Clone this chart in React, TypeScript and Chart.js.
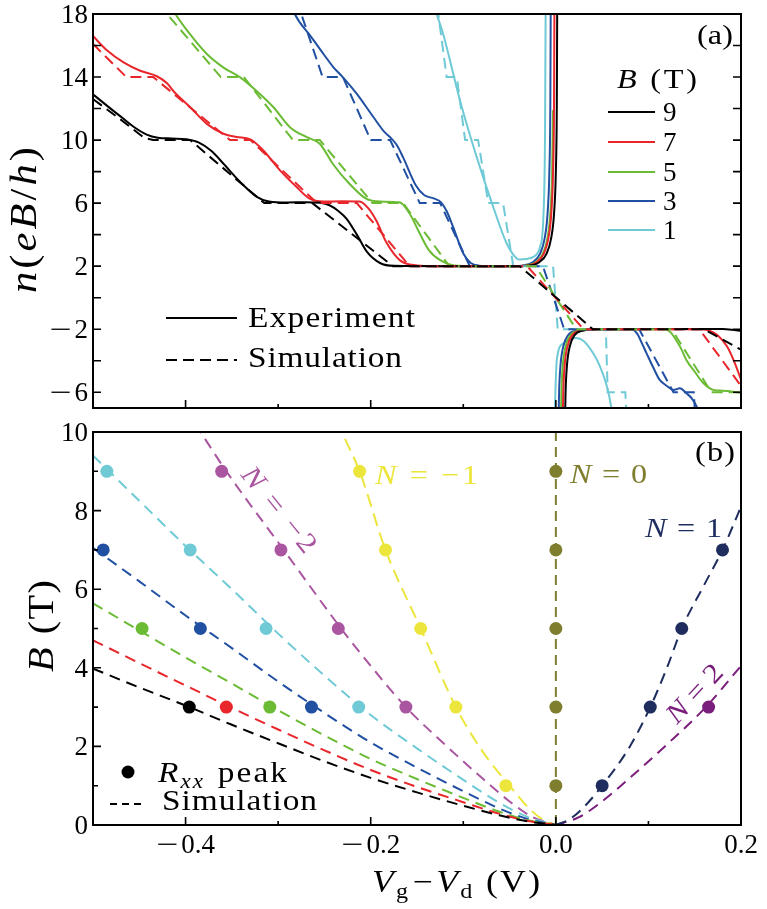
import React, { useEffect, useRef } from "react";
import { Chart, registerables } from "chart.js";

Chart.register(...registerables);

// ---------------- Panel (a): n(eB/h) vs Vg-Vd, [V, n] ----------------
const expB9: (number | null)[][] = [
  [-0.5, 12.9], [-0.48, 11.95], [-0.467, 11.35], [-0.455, 10.8], [-0.442, 10.35], [-0.43, 10.15],
  [-0.415, 10.1], [-0.399, 10.05], [-0.386, 9.85], [-0.372, 9.3], [-0.359, 8.5], [-0.341, 7.34],
  [-0.323, 6.4], [-0.31, 6.1], [-0.29, 6.04], [-0.27, 6.06], [-0.255, 6.02], [-0.244, 5.85],
  [-0.235, 5.5], [-0.226, 5.0], [-0.215, 4.0], [-0.204, 2.9], [-0.19, 2.2], [-0.175, 2.02],
  [-0.12, 2.0], [-0.05, 2.0], [-0.03, 2.03], [-0.018, 2.25], [-0.01, 2.8], [-0.005, 3.8],
  [-0.002, 5.3], [0.0, 8], [0.001, 12], [0.0015, 19], [0.004, null],
  [0.0095, -9], [0.0105, -6], [0.012, -4.3], [0.015, -3.1], [0.02, -2.4], [0.03, -2.08],
  [0.045, -2.0], [0.1, -1.98], [0.15, -1.98], [0.18, -1.99], [0.19, -2.03], [0.2, -2.1],
];
const simB9: number[][] = [
  [-0.5, 12.6], [-0.47, 11.3], [-0.445, 10.15], [-0.435, 10.0], [-0.395, 10.0], [-0.315, 6.0],
  [-0.263, 6.0], [-0.176, 2.0], [-0.039, 2.0], [0.04, -2.0], [0.16, -2.0], [0.2, -3.3],
];
const expB7: (number | null)[][] = [
  [-0.5, 16.6], [-0.485, 15.7], [-0.467, 14.93], [-0.449, 14.4], [-0.431, 14.05], [-0.42, 13.6],
  [-0.413, 13.1], [-0.395, 12.08], [-0.377, 11.03], [-0.359, 10.4], [-0.345, 10.2], [-0.33, 10.05],
  [-0.316, 9.34], [-0.298, 8.08], [-0.28, 7.02], [-0.266, 6.28], [-0.251, 6.1], [-0.23, 6.12],
  [-0.212, 6.1], [-0.203, 5.7], [-0.194, 4.9], [-0.183, 3.5], [-0.168, 2.35], [-0.15, 2.05],
  [-0.13, 2.0], [-0.06, 2.0], [-0.033, 2.03], [-0.021, 2.25], [-0.013, 2.8], [-0.008, 3.8],
  [-0.005, 5.3], [-0.003, 8], [-0.002, 12], [-0.0015, 19], [0.002, null],
  [0.007, -9], [0.008, -6], [0.0095, -4.3], [0.0125, -3.1], [0.0175, -2.4], [0.0275, -2.08],
  [0.045, -2.0], [0.15, -2.0], [0.16, -2.02], [0.166, -2.1], [0.175, -2.4], [0.185, -3.1],
  [0.193, -4.1], [0.2, -5.2],
];
const simB7: number[][] = [
  [-0.5, 16.1], [-0.464, 14.0], [-0.435, 14.0], [-0.352, 10.0], [-0.33, 10.0], [-0.258, 6.0],
  [-0.215, 6.0], [-0.158, 2.0], [-0.031, 2.0], [0.03, -2.0], [0.155, -2.0], [0.205, -6.0],
];
const expB5: (number | null)[][] = [
  [-0.425, 19.5], [-0.411, 18], [-0.395, 16.7], [-0.377, 15.46], [-0.359, 14.6], [-0.341, 13.98],
  [-0.323, 13.1], [-0.305, 12.08], [-0.287, 10.8], [-0.269, 10.18], [-0.255, 9.77], [-0.241, 8.5],
  [-0.223, 7.23], [-0.205, 6.28], [-0.19, 6.1], [-0.169, 6.05], [-0.158, 5.34], [-0.147, 4.07],
  [-0.137, 3.0], [-0.125, 2.38], [-0.11, 2.05], [-0.09, 2.0], [-0.05, 2.0], [-0.034, 2.03],
  [-0.022, 2.25], [-0.014, 2.8], [-0.009, 3.8], [-0.006, 5.3], [-0.004, 8], [-0.003, 11.9],
  [0.0, null],
  [0.005, -9], [0.006, -6], [0.0075, -4.3], [0.0105, -3.1], [0.0155, -2.4], [0.0255, -2.08],
  [0.045, -2.0], [0.118, -2.0], [0.124, -2.2], [0.13, -2.7], [0.135, -3.2], [0.141, -3.95],
  [0.15, -4.7], [0.159, -5.4], [0.17, -5.85], [0.18, -5.9], [0.19, -5.95], [0.2, -6.05],
];
const simB5: number[][] = [
  [-0.46, 19.5], [-0.435, 18.0], [-0.42, 18.0], [-0.362, 14.0], [-0.337, 14.0], [-0.284, 10.0],
  [-0.255, 10.0], [-0.198, 6.0], [-0.165, 6.0], [-0.115, 2.0], [-0.022, 2.0], [0.022, -2.0],
  [0.125, -2.0], [0.168, -6.0], [0.2, -6.0],
];
const expB3: (number | null)[][] = [
  [-0.29, 19.3], [-0.282, 18], [-0.265, 16.6], [-0.251, 15.46], [-0.24, 14.6], [-0.23, 13.98],
  [-0.215, 12.93], [-0.197, 11.45], [-0.185, 10.5], [-0.179, 10.18], [-0.172, 9.7], [-0.165, 8.9],
  [-0.151, 7.1], [-0.142, 6.5], [-0.132, 6.3], [-0.124, 6.05], [-0.118, 5.5], [-0.111, 4.49],
  [-0.1, 2.8], [-0.092, 2.2], [-0.083, 2.03], [-0.07, 2.0], [-0.045, 2.0], [-0.037, 2.03],
  [-0.025, 2.25], [-0.017, 2.8], [-0.012, 3.8], [-0.009, 5.3], [-0.007, 8], [-0.006, 12],
  [-0.0055, 19], [-0.002, null],
  [0.0025, -9], [0.0035, -6], [0.005, -4.3], [0.008, -3.1], [0.013, -2.4], [0.023, -2.08],
  [0.04, -2.0], [0.082, -2.0], [0.088, -2.3], [0.093, -2.9], [0.098, -3.53], [0.105, -4.4],
  [0.112, -5.2], [0.12, -5.6], [0.127, -5.85], [0.134, -5.75], [0.141, -6.06], [0.147, -6.4],
  [0.152, -6.9], [0.156, -7.6],
];
const simB3: number[][] = [
  [-0.29, 19.5], [-0.282, 18.0], [-0.275, 18.0], [-0.252, 14.0], [-0.23, 14.0], [-0.2, 10.0],
  [-0.179, 10.0], [-0.147, 6.0], [-0.125, 6.0], [-0.093, 2.0], [-0.014, 2.0], [0.009, -2.0],
  [0.09, -2.0], [0.127, -6.0], [0.149, -6.0], [0.151, -8.0],
];
const expB1: (number | null)[][] = [
  [-0.135, 19.3], [-0.1287, 18], [-0.1216, 16.7], [-0.1035, 12.5], [-0.0855, 8.92], [-0.0676, 5.75],
  [-0.0531, 3.44], [-0.0423, 2.49], [-0.039, 2.42], [-0.032, 2.45], [-0.0244, 2.59], [-0.0171, 3.22],
  [-0.0135, 5.12], [-0.0117, 10.4], [-0.011, 18.5], [-0.0105, 20], [-0.006, null],
  [-0.002, -9], [-0.0005, -6], [0.001, -3.95], [0.008, -2.9], [0.016, -2.62], [0.022, -2.56],
  [0.03, -2.75], [0.04, -3.5], [0.048, -4.4], [0.055, -5.6], [0.06, -7], [0.063, -8.5],
];
const simB1: number[][] = [
  [-0.13, 19.5], [-0.127, 18.0], [-0.118, 14.0], [-0.107, 14.0], [-0.098, 10.0], [-0.084, 10.0],
  [-0.073, 6.0], [-0.057, 6.0], [-0.046, 2.0], [-0.003, 2.0], [0.002, -2.0], [0.054, -2.0],
  [0.056, -6.0], [0.075, -6.0], [0.077, -8.0],
];
const fieldLabels = ["9", "7", "5", "3", "1"];

// ---------------- Panel (b): B vs Vg-Vd, [V, B] ----------------
const peakBlack = [[-0.396, 3]];
const peakRed = [[-0.356, 3]];
const peakGreen = [[-0.447, 5], [-0.309, 3]];
const peakBlue = [[-0.489, 7], [-0.384, 5], [-0.264, 3]];
const peakCyan = [[-0.485, 9], [-0.395, 7], [-0.313, 5], [-0.213, 3]];
const peakNm2 = [[-0.361, 9], [-0.297, 7], [-0.235, 5], [-0.162, 3]];
const peakNm1 = [[-0.212, 9], [-0.184, 7], [-0.146, 5], [-0.108, 3], [-0.054, 1]];
const peakN0 = [[0, 9], [0, 7], [0, 5], [0, 3], [0, 1]];
const peakN1 = [[0.05, 1], [0.102, 3], [0.136, 5], [0.18, 7]];
const peakN2 = [[0.165, 3]];

const simBlack = [[-0.5, 3.98], [-0.45, 3.5], [-0.4, 3.04], [-0.35, 2.55], [-0.3, 2.08], [-0.25, 1.62], [-0.2, 1.2], [-0.15, 0.83], [-0.1, 0.49], [-0.06, 0.24], [-0.03, 0.09], [0, 0]];
const simRed = [[-0.5, 4.7], [-0.45, 4.12], [-0.4, 3.55], [-0.35, 2.98], [-0.3, 2.43], [-0.25, 1.9], [-0.2, 1.4], [-0.15, 0.97], [-0.1, 0.58], [-0.06, 0.28], [-0.03, 0.1], [0, 0]];
const simGreen = [[-0.5, 5.64], [-0.45, 4.95], [-0.4, 4.26], [-0.35, 3.6], [-0.3, 2.92], [-0.25, 2.28], [-0.2, 1.68], [-0.15, 1.17], [-0.1, 0.69], [-0.06, 0.33], [-0.03, 0.12], [0, 0]];
const simBlue = [[-0.5, 7.05], [-0.45, 6.2], [-0.4, 5.33], [-0.35, 4.5], [-0.3, 3.65], [-0.25, 2.85], [-0.2, 2.1], [-0.15, 1.46], [-0.1, 0.86], [-0.06, 0.41], [-0.03, 0.15], [0, 0]];
const simCyan = [[-0.5, 9.4], [-0.45, 8.25], [-0.4, 7.1], [-0.35, 6.0], [-0.3, 4.87], [-0.25, 3.8], [-0.2, 2.8], [-0.15, 1.95], [-0.1, 1.15], [-0.06, 0.55], [-0.03, 0.2], [0, 0]];
const simNm2 = [[-0.39, 10.2], [-0.384, 10], [-0.356, 9], [-0.294, 7], [-0.232, 5], [-0.2, 4.05], [-0.162, 3.0], [-0.12, 2.05], [-0.08, 1.2], [-0.05, 0.6], [-0.025, 0.2], [0, 0]];
const simNm1 = [[-0.236, 10.3], [-0.231, 10], [-0.212, 9], [-0.184, 7], [-0.146, 5], [-0.108, 3], [-0.08, 1.9], [-0.05, 1.0], [-0.03, 0.45], [-0.015, 0.15], [0, 0]];
const simN0 = [[0, 0], [0, 10]];
const simN1 = [[0, 0], [0.015, 0.15], [0.03, 0.45], [0.05, 1.0], [0.08, 2.0], [0.102, 3], [0.12, 4.0], [0.136, 5], [0.16, 6.1], [0.18, 7], [0.2, 8.1]];
const simN2 = [[0, 0], [0.025, 0.2], [0.05, 0.6], [0.08, 1.2], [0.12, 2.05], [0.162, 3.0], [0.2, 4.05]];

// ---------------- ticks ----------------
const nTicksAll = [-6, -4, -2, 0, 2, 4, 6, 8, 10, 12, 14, 16];
const nTicksLabeled = [-6, -2, 2, 6, 10, 14, 18];
const vTicksMajor = [-0.4, -0.2, 0.0, 0.2];
const vTickLabels = ["−0.4", "−0.2", "0.0", "0.2"];
const vTicksMinor = [-0.3, -0.1, 0.1];
const bTicksMajor = [0, 2, 4, 6, 8, 10];
const bTicksMinor = [1, 3, 5, 7, 9];

// ---------------- styles ----------------
const BLACK = "#000000";
const RED = "#e8262b";
const GREEN = "#6bbb34";
const BLUE = "#2150a2";
const CYAN = "#6fcad6";
const PURPLE = "#a9559f";
const YELLOW = "#ece63c";
const OLIVE = "#7e7e2e";
const NAVY = "#1e2d5e";
const DPURPLE = "#7a1e7c";
const SERIF = '"Liberation Serif", "Times New Roman", Times, serif';

type Seg = { t: string; px: number; it?: boolean; dy?: number; gap?: number; sx?: number };
const fnt = (px: number, it?: boolean) => `${it ? "italic " : "normal "}${px}px ${SERIF}`;

function charW(ctx: CanvasRenderingContext2D, s: Seg, ch: string) {
  ctx.font = fnt(s.px, s.it);
  return ctx.measureText(ch).width * (s.sx ?? 1);
}

// Draws a run of text segments; when a target width is given the extra room is
// shared between a modest horizontal stretch and letter spacing.
function drawSegs(
  ctx: CanvasRenderingContext2D,
  segs: Seg[],
  x: number,
  y: number,
  o: { align?: "left" | "center" | "right"; rot?: number; color?: string; width?: number } = {}
) {
  ctx.save();
  ctx.fillStyle = o.color ?? "#000";
  ctx.textAlign = "left";
  ctx.textBaseline = "alphabetic";
  let natural = 0;
  let nChars = 0;
  for (const s of segs) {
    for (const ch of Array.from(s.t)) {
      natural += charW(ctx, s, ch);
      nChars++;
    }
    natural += s.gap ?? 0;
  }
  let k = 1;
  let ls = 0;
  if (o.width) {
    k = Math.max(0.85, Math.min(1.15, o.width / natural));
    ls = nChars > 1 ? (o.width - natural * k) / (nChars - 1) : 0;
  }
  const total = natural * k + ls * Math.max(0, nChars - 1);
  ctx.translate(x, y);
  if (o.rot) ctx.rotate((o.rot * Math.PI) / 180);
  let cx = o.align === "center" ? -total / 2 : o.align === "right" ? -total : 0;
  for (const s of segs) {
    ctx.font = fnt(s.px, s.it);
    for (const ch of Array.from(s.t)) {
      const w = charW(ctx, s, ch) * k;
      ctx.save();
      ctx.translate(cx, s.dy ?? 0);
      ctx.scale((s.sx ?? 1) * k, 1);
      ctx.fillText(ch, 0, 0);
      ctx.restore();
      cx += w + ls;
    }
    cx += (s.gap ?? 0) * k;
  }
  ctx.restore();
}

function numSegs(label: string, px: number): Seg[] {
  if (label.startsWith("−")) return [{ t: "−", px, sx: 1.45, gap: 3 }, { t: label.slice(1), px }];
  return [{ t: label, px }];
}
const fmt = (v: number) => (v < 0 ? "−" + Math.abs(v) : String(v));

const toXY = (arr: (number | null)[][]) => arr.map(([x, y]) => ({ x: x as number, y }));

function line(data: (number | null)[][], color: string, dashed: boolean, smooth: boolean, dash = [11, 6]) {
  return {
    data: toXY(data),
    showLine: true,
    borderColor: color,
    backgroundColor: color,
    borderWidth: 2,
    borderDash: dashed ? dash : [],
    pointRadius: 0,
    spanGaps: false,
    cubicInterpolationMode: smooth ? ("monotone" as const) : ("default" as const),
    tension: 0,
    order: 2,
  };
}
function dots(data: number[][], color: string) {
  return {
    data: toXY(data),
    showLine: false,
    borderColor: color,
    backgroundColor: color,
    borderWidth: 0,
    pointRadius: 6.5,
    order: 1,
  };
}

function drawFrame(ctx: CanvasRenderingContext2D, a: any) {
  ctx.save();
  ctx.strokeStyle = "#000";
  ctx.lineWidth = 2;
  ctx.strokeRect(a.left, a.top, a.right - a.left, a.bottom - a.top);
  ctx.restore();
}

const panelAPlugin = {
  id: "panelA",
  afterDraw(chart: any) {
    const { ctx, chartArea: a, scales } = chart;
    const xs = scales.x, ys = scales.y;
    drawFrame(ctx, a);
    ctx.save();
    ctx.strokeStyle = "#000";
    ctx.lineWidth = 1.6;
    ctx.beginPath();
    for (const v of nTicksAll) {
      const y = ys.getPixelForValue(v);
      ctx.moveTo(a.left, y); ctx.lineTo(a.left + 8, y);
      ctx.moveTo(a.right, y); ctx.lineTo(a.right - 8, y);
    }
    for (const v of vTicksMajor) {
      const x = xs.getPixelForValue(v);
      ctx.moveTo(x, a.bottom); ctx.lineTo(x, a.bottom - 8);
    }
    for (const v of vTicksMinor) {
      const x = xs.getPixelForValue(v);
      ctx.moveTo(x, a.bottom); ctx.lineTo(x, a.bottom - 4);
    }
    ctx.stroke();
    ctx.restore();
    for (const v of nTicksLabeled) {
      drawSegs(ctx, numSegs(fmt(v), 27), 88, ys.getPixelForValue(v) + 9, { align: "right" });
    }
    // y title
    drawSegs(
      ctx,
      [
        { t: "n", px: 37, it: true },
        { t: "(", px: 37 },
        { t: "e", px: 37, it: true },
        { t: "B", px: 37, it: true },
        { t: "/", px: 37 },
        { t: "h", px: 37, it: true },
        { t: ")", px: 37 },
      ],
      36, 220, { align: "center", rot: -90, width: 146 }
    );
    // (a)
    drawSegs(ctx, [{ t: "(a)", px: 28 }], 733, 44, { align: "right", width: 36 });
    // B (T) legend
    drawSegs(ctx, [{ t: "B", px: 28, it: true }, { t: " (T)", px: 28 }], 617, 88, { width: 80 });
    const cols = [BLACK, RED, GREEN, BLUE, CYAN];
    const rows = [112, 142, 172, 201, 230];
    fieldLabels.forEach((lab, i) => {
      ctx.save();
      ctx.strokeStyle = cols[i];
      ctx.lineWidth = 2.2;
      ctx.beginPath();
      ctx.moveTo(608, rows[i]); ctx.lineTo(655, rows[i]);
      ctx.stroke();
      ctx.restore();
      drawSegs(ctx, [{ t: lab, px: 27 }], 663, rows[i] + 9);
    });
    // Experiment / Simulation legend
    ctx.save();
    ctx.strokeStyle = "#000";
    ctx.lineWidth = 2;
    ctx.beginPath();
    ctx.moveTo(166, 318); ctx.lineTo(237, 318);
    ctx.stroke();
    ctx.setLineDash([11, 6]);
    ctx.beginPath();
    ctx.moveTo(166, 360); ctx.lineTo(237, 360);
    ctx.stroke();
    ctx.restore();
    drawSegs(ctx, [{ t: "Experiment", px: 29 }], 248, 327, { width: 167 });
    drawSegs(ctx, [{ t: "Simulation", px: 29 }], 248, 367, { width: 154 });
  },
};

const panelBPlugin = {
  id: "panelB",
  afterDraw(chart: any) {
    const { ctx, chartArea: a, scales } = chart;
    const xs = scales.x, ys = scales.y;
    drawFrame(ctx, a);
    ctx.save();
    ctx.strokeStyle = "#000";
    ctx.lineWidth = 1.6;
    ctx.beginPath();
    for (const v of bTicksMajor) {
      const y = ys.getPixelForValue(v);
      ctx.moveTo(a.left, y); ctx.lineTo(a.left + 8, y);
    }
    for (const v of bTicksMinor) {
      const y = ys.getPixelForValue(v);
      ctx.moveTo(a.left, y); ctx.lineTo(a.left + 5, y);
    }
    for (const v of vTicksMajor) {
      const x = xs.getPixelForValue(v);
      ctx.moveTo(x, a.bottom); ctx.lineTo(x, a.bottom - 8);
    }
    for (const v of vTicksMinor) {
      const x = xs.getPixelForValue(v);
      ctx.moveTo(x, a.bottom); ctx.lineTo(x, a.bottom - 4);
    }
    ctx.stroke();
    ctx.restore();
    for (const v of bTicksMajor) {
      drawSegs(ctx, numSegs(fmt(v), 27), 88, ys.getPixelForValue(v) + 9, { align: "right" });
    }
    vTicksMajor.forEach((v, i) => {
      drawSegs(ctx, numSegs(vTickLabels[i], 27), xs.getPixelForValue(v), a.bottom + 28, { align: "center" });
    });
    // axis titles
    drawSegs(ctx, [{ t: "B", px: 35, it: true }, { t: " (T)", px: 35 }], 53, 206, { align: "center", rot: -90, width: 92 });
    drawSegs(
      ctx,
      [
        { t: "V", px: 31, it: true },
        { t: "g", px: 21, dy: 6, gap: 2 },
        { t: "−", px: 31, gap: 1 },
        { t: "V", px: 31, it: true },
        { t: "d", px: 21, dy: 6 },
        { t: " (V)", px: 31 },
      ],
      372, 472, { width: 168 }
    );
    // (b)
    drawSegs(ctx, [{ t: "(b)", px: 28 }], 735, 41, { align: "right", width: 40 });
    // annotations
    const eq = (rhs: string, px = 28): Seg[] => [
      { t: "N", px, it: true },
      { t: " = ", px },
      { t: rhs, px },
    ];
    drawSegs(ctx, eq("−1"), 375, 64, { color: YELLOW, width: 103 });
    drawSegs(ctx, eq("0"), 570, 63, { color: OLIVE, width: 77 });
    drawSegs(ctx, eq("1"), 645, 117, { color: NAVY, width: 77 });
    drawSegs(ctx, eq("−2"), 240, 55, { color: PURPLE, width: 103, rot: 51 });
    drawSegs(ctx, eq("2"), 677, 305, { color: DPURPLE, width: 70, rot: -47 });
    // legend
    ctx.save();
    ctx.fillStyle = "#000";
    ctx.beginPath();
    ctx.arc(128, 352, 6.5, 0, Math.PI * 2);
    ctx.fill();
    ctx.strokeStyle = "#000";
    ctx.lineWidth = 2;
    ctx.setLineDash([7, 5]);
    ctx.beginPath();
    ctx.moveTo(110, 384); ctx.lineTo(145, 384);
    ctx.stroke();
    ctx.restore();
    drawSegs(
      ctx,
      [
        { t: "R", px: 29, it: true },
        { t: "xx", px: 20, it: true, dy: 6, gap: 2 },
        { t: " peak", px: 29 },
      ],
      158, 362, { width: 129 }
    );
    drawSegs(ctx, [{ t: "Simulation", px: 29 }], 162, 390, { width: 155 });
  },
};

export default function App() {
  const refA = useRef<HTMLCanvasElement | null>(null);
  const refB = useRef<HTMLCanvasElement | null>(null);

  useEffect(() => {
    const common = (padding: any, ymin: number, ymax: number) => ({
      animation: false as const,
      responsive: false,
      maintainAspectRatio: false,
      devicePixelRatio: 1,
      events: [],
      layout: { padding },
      plugins: { legend: { display: false }, tooltip: { enabled: false } },
      scales: {
        x: { type: "linear" as const, min: -0.5, max: 0.2, display: false },
        y: { type: "linear" as const, min: ymin, max: ymax, display: false },
      },
    });

    const chartA = new Chart(refA.current as HTMLCanvasElement, {
      type: "scatter",
      data: {
        datasets: [
          line(simB9, BLACK, true, false),
          line(simB7, RED, true, false),
          line(simB5, GREEN, true, false),
          line(simB3, BLUE, true, false),
          line(simB1, CYAN, true, false),
          line(expB9, BLACK, false, true),
          line(expB7, RED, false, true),
          line(expB5, GREEN, false, true),
          line(expB3, BLUE, false, true),
          line(expB1, CYAN, false, true),
        ] as any,
      },
      options: common({ left: 93, right: 26, top: 14, bottom: 12 }, -7, 18) as any,
      plugins: [panelAPlugin],
    });

    const dashB = [11, 7];
    const chartB = new Chart(refB.current as HTMLCanvasElement, {
      type: "scatter",
      data: {
        datasets: [
          dots(peakBlack, BLACK),
          dots(peakRed, RED),
          dots(peakGreen, GREEN),
          dots(peakBlue, BLUE),
          dots(peakCyan, CYAN),
          dots(peakNm2, PURPLE),
          dots(peakNm1, YELLOW),
          dots(peakN0, OLIVE),
          dots(peakN1, NAVY),
          dots(peakN2, DPURPLE),
          line(simBlack, BLACK, true, true, dashB),
          line(simRed, RED, true, true, dashB),
          line(simGreen, GREEN, true, true, dashB),
          line(simBlue, BLUE, true, true, dashB),
          line(simCyan, CYAN, true, true, dashB),
          line(simNm2, PURPLE, true, true, dashB),
          line(simNm1, YELLOW, true, true, [13, 7]),
          line(simN0, OLIVE, true, false, [10, 6]),
          line(simN1, NAVY, true, true, dashB),
          line(simN2, DPURPLE, true, true, dashB),
        ] as any,
      },
      options: common({ left: 93, right: 26, top: 12, bottom: 84 }, 0, 10) as any,
      plugins: [panelBPlugin],
    });

    let alive = true;
    const fontsToLoad = ['27px "Liberation Serif"', 'italic 27px "Liberation Serif"'];
    Promise.all(fontsToLoad.map((f) => (document as any).fonts.load(f)))
      .catch(() => null)
      .then(() => {
        if (!alive) return;
        chartA.update();
        chartB.update();
      });

    return () => {
      alive = false;
      chartA.destroy();
      chartB.destroy();
    };
  }, []);

  return (
    <div style={{ position: "fixed", left: 0, top: 0, width: 767, height: 909, background: "#fff" }}>
      <span style={{ position: "absolute", left: -999, top: 0, fontFamily: '"Liberation Serif"' }}>
        0<i>N</i>
      </span>
      <canvas ref={refA} width={767} height={420} style={{ position: "absolute", left: 0, top: 0 }} />
      <canvas ref={refB} width={767} height={489} style={{ position: "absolute", left: 0, top: 420 }} />
    </div>
  );
}
